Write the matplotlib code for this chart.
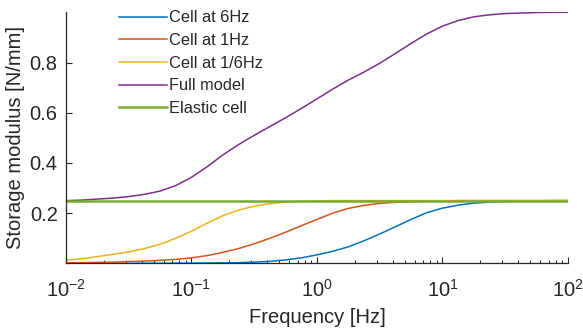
import matplotlib
matplotlib.use("Agg")
import matplotlib.pyplot as plt
from matplotlib.ticker import LogLocator, NullFormatter, FixedLocator

plt.rcParams['font.family'] = ['Liberation Sans', 'DejaVu Sans']
plt.rcParams['mathtext.default'] = 'regular'

freq = [0.01, 0.01334, 0.01778, 0.02371, 0.03162, 0.04217, 0.05623, 0.07499,
        0.1, 0.1334, 0.1778, 0.2371, 0.3162, 0.4217, 0.5623, 0.7499,
        1.0, 1.334, 1.778, 2.371, 3.162, 4.217, 5.623, 7.499,
        10.0, 13.34, 17.78, 23.71, 31.62, 42.17, 56.23, 74.99, 100.0]

cell_6hz = [0.0, 0.0, 0.0, 0.0, 0.0, 0.0002, 0.0004, 0.0007,
            0.001, 0.0015, 0.002, 0.003, 0.005, 0.008, 0.014, 0.022,
            0.034, 0.048, 0.066, 0.090, 0.117, 0.146, 0.175, 0.202,
            0.220, 0.232, 0.240, 0.244, 0.247, 0.248, 0.249, 0.250, 0.250]
cell_1hz = [0.002, 0.003, 0.004, 0.005, 0.007, 0.009, 0.012, 0.016,
            0.022, 0.031, 0.044, 0.059, 0.078, 0.100, 0.124, 0.150,
            0.175, 0.200, 0.219, 0.231, 0.239, 0.243, 0.246, 0.248,
            0.249, 0.250, 0.250, 0.250, 0.250, 0.250, 0.250, 0.250, 0.250]
cell_16hz = [0.012, 0.019, 0.027, 0.036, 0.046, 0.059, 0.076, 0.100,
             0.128, 0.160, 0.190, 0.212, 0.228, 0.238, 0.244, 0.247,
             0.249, 0.250, 0.250, 0.250, 0.250, 0.250, 0.250, 0.250,
             0.250, 0.250, 0.250, 0.250, 0.250, 0.250, 0.250, 0.250, 0.250]
full_model = [0.250, 0.252, 0.256, 0.260, 0.266, 0.275, 0.288, 0.310,
              0.343, 0.385, 0.432, 0.473, 0.510, 0.545, 0.580, 0.617,
              0.655, 0.694, 0.730, 0.762, 0.797, 0.836, 0.876, 0.914,
              0.945, 0.967, 0.982, 0.990, 0.995, 0.997, 0.999, 1.000, 1.000]
elastic = [0.25] * len(freq)

labels = ['Cell at 6Hz', 'Cell at 1Hz', 'Cell at 1/6Hz', 'Full model', 'Elastic cell']
colors = ['#0072BD', '#D95319', '#EDB120', '#7E2F8E', '#77AC30']

fig = plt.figure(figsize=(5.83, 3.28), dpi=100)
ax = fig.add_axes([0.1132, 0.197, 0.861, 0.7655])

series = [cell_6hz, cell_1hz, cell_16hz, full_model, elastic]
widths = [1.1, 1.1, 1.1, 1.1, 1.8]
for s, lab, c, w in zip(series, labels, colors, widths):
    ax.plot(freq, s, color=c, lw=w, label=lab)

ax.set_xscale('log')
ax.set_xlim(1e-2, 1e2)
ax.set_ylim(0, 1.0)
ax.yaxis.set_major_locator(FixedLocator([0.2, 0.4, 0.6, 0.8]))
ax.set_yticklabels(['0.2', '0.4', '0.6', '0.8'])
ax.xaxis.set_major_locator(LogLocator(base=10, numticks=10))
ax.xaxis.set_minor_locator(LogLocator(base=10, subs=range(2, 10), numticks=20))
ax.xaxis.set_minor_formatter(NullFormatter())

for sp in ['top', 'right']:
    ax.spines[sp].set_visible(False)
for sp in ['left', 'bottom']:
    ax.spines[sp].set_color('#262626')
    ax.spines[sp].set_linewidth(0.9)

ax.tick_params(axis='both', which='major', direction='in', length=4, width=0.8,
               colors='#262626', labelsize=14.5)
ax.tick_params(axis='y', which='major', pad=6)
ax.tick_params(axis='x', which='major', pad=11)
ax.tick_params(axis='x', which='minor', direction='in', length=2, width=0.7,
               colors='#262626')
ax.tick_params(axis='y', which='minor', left=False)

ax.set_xlabel('Frequency [Hz]', fontsize=14.5, color='#262626', labelpad=5)
ax.set_ylabel('Storage modulus [N/mm]', fontsize=14.5, color='#262626', labelpad=3)

leg = ax.legend(loc='upper left', bbox_to_anchor=(0.106, 1.008), frameon=False,
                fontsize=11.8, handlelength=2.9, handletextpad=0.12,
                labelspacing=0.47, borderaxespad=0, borderpad=0)
for t in leg.get_texts():
    t.set_color('#262626')

fig.savefig('out.png', dpi=100)
